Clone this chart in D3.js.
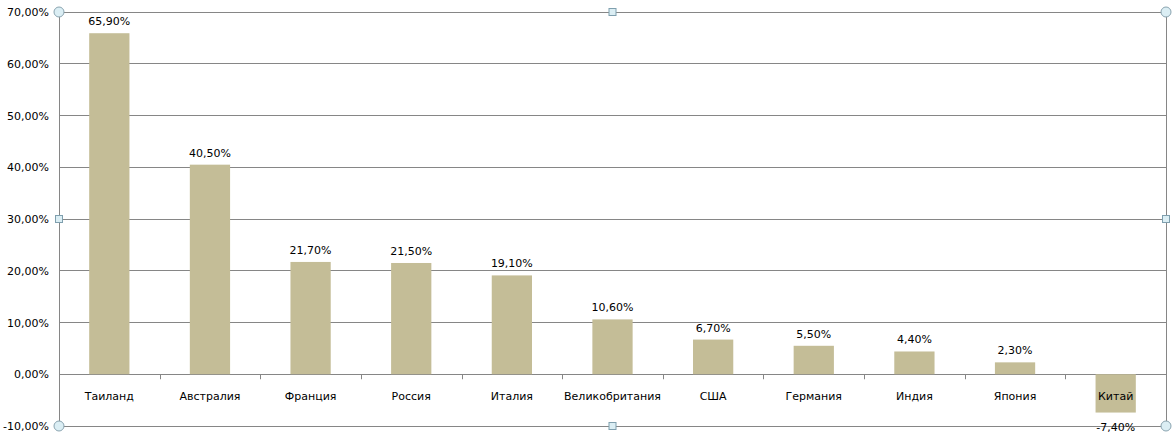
<!DOCTYPE html>
<html><head><meta charset="utf-8">
<script src="https://cdn.jsdelivr.net/npm/d3@7"></script>
<style>body{margin:0;background:#fff}svg{display:block}text{font-family:"DejaVu Sans",Verdana,sans-serif;font-size:11px;fill:#000}</style>
</head><body><svg id="c" width="1173" height="440"></svg>
<script>
const categories = ["Таиланд","Австралия","Франция","Россия","Италия","Великобритания","США","Германия","Индия","Япония","Китай"];
const values = [65.9,40.5,21.7,21.5,19.1,10.6,6.7,5.5,4.4,2.3,-7.4];
const yTicks = [-10,0,10,20,30,40,50,60,70];

const svg = d3.select("#c");
const L=59,R=1166,T=12,B=426;
const x = d3.scaleBand().domain(categories).range([L,R]).paddingInner(0.6).paddingOuter(0.3);
const y = d3.scaleLinear().domain([-10,70]).range([B,T]);
const fmt = v => (v<0?"-":"")+Math.abs(v).toFixed(2).replace(".",",")+"%";
const grey="#868686";

// gridlines
svg.append("g").selectAll("line").data(yTicks).join("line")
  .attr("x1",L).attr("x2",R).attr("y1",d=>y(d)).attr("y2",d=>y(d))
  .attr("stroke",grey).attr("stroke-width",1).attr("shape-rendering","crispEdges");
// border left/right
svg.append("line").attr("x1",L).attr("x2",L).attr("y1",T).attr("y2",B).attr("stroke",grey).attr("shape-rendering","crispEdges");
svg.append("line").attr("x1",R).attr("x2",R).attr("y1",T).attr("y2",B).attr("stroke",grey).attr("shape-rendering","crispEdges");

// y axis labels
const yAxis = d3.axisLeft(y).tickValues(yTicks).tickSize(0).tickPadding(10).tickFormat(fmt);
const ya = svg.append("g").attr("transform",`translate(${L},0)`).call(yAxis);
ya.select(".domain").remove();
ya.selectAll("text").style("font-family","DejaVu Sans, Verdana, sans-serif").style("font-size","11px").attr("fill","#000");

// bars
svg.append("g").selectAll("rect").data(values).join("rect")
  .attr("x",(d,i)=>x(categories[i])).attr("width",x.bandwidth())
  .attr("y",d=>y(Math.max(0,d))).attr("height",d=>Math.abs(y(d)-y(0)))
  .attr("fill","#c4bd97");

// category axis ticks at band boundaries
const bounds = d3.range(1,categories.length).map(i=>L+i*(R-L)/categories.length);
svg.append("g").selectAll("line").data(bounds).join("line")
  .attr("x1",d=>Math.round(d)+0.5).attr("x2",d=>Math.round(d)+0.5).attr("y1",y(0)).attr("y2",y(0)+5)
  .attr("stroke",grey);

// category labels
svg.append("g").selectAll("text").data(categories).join("text")
  .attr("x",d=>x(d)+x.bandwidth()/2).attr("y",y(0)+26)
  .attr("text-anchor","middle").text(d=>d);

// value labels
svg.append("g").selectAll("text").data(values).join("text")
  .attr("x",(d,i)=>x(categories[i])+x.bandwidth()/2)
  .attr("y",d=>d>=0? y(d)-8 : y(d)+18)
  .attr("text-anchor","middle").text(d=>fmt(d));

// selection handles
const hx=[L,(L+R)/2,R], hy=[T,(T+B)/2,B];
const handles=[];
hx.forEach((a,i)=>hy.forEach((b,j)=>{ if(i===1&&j===1) return; handles.push({x:a,y:b,c:(i!==1&&j!==1)}); }));
const hg=svg.append("g");
handles.forEach(d=>{
  if(d.c) hg.append("circle").attr("cx",d.x).attr("cy",d.y).attr("r",5).attr("fill","#dbeef4").attr("stroke","#8aa4b0");
  else hg.append("rect").attr("x",d.x-3.5).attr("y",d.y-3.5).attr("width",7).attr("height",7).attr("fill","#dbeef4").attr("stroke","#7f9fae");
});
</script></body></html>
